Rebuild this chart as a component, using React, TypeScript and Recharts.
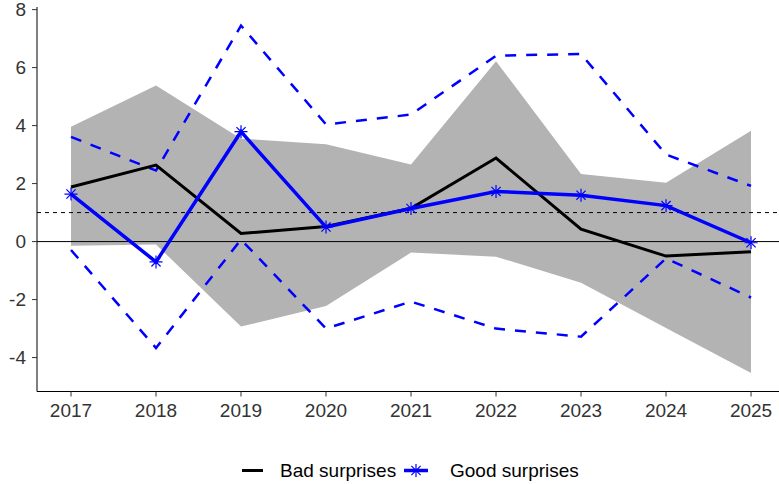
import React from "react";
import {
  ComposedChart,
  Line,
  Area,
  XAxis,
  YAxis,
  ReferenceLine,
  Legend,
} from "recharts";

const years = [2017, 2018, 2019, 2020, 2021, 2022, 2023, 2024, 2025];
const bad = [1.88, 2.64, 0.28, 0.52, 1.15, 2.88, 0.43, -0.5, -0.35];
const good = [1.64, -0.7, 3.79, 0.5, 1.14, 1.73, 1.6, 1.24, -0.04];
const goodUpper = [3.61, 2.45, 7.45, 4.04, 4.38, 6.41, 6.47, 3.0, 1.92];
const goodLower = [-0.29, -3.67, 0.07, -3.0, -2.07, -3.0, -3.28, -0.58, -1.93];
const bandUpper = [3.96, 5.38, 3.55, 3.36, 2.66, 6.22, 2.33, 2.03, 3.82];
const bandLower = [-0.14, -0.1, -2.93, -2.22, -0.38, -0.52, -1.42, -2.98, -4.53];
const yTicks = [-4, -2, 0, 2, 4, 6, 8];

const data = years.map((year, i) => ({
  year,
  bad: bad[i],
  good: good[i],
  goodUpper: goodUpper[i],
  goodLower: goodLower[i],
  band: [bandLower[i], bandUpper[i]],
}));

const FONT = "'Liberation Sans', Arial, sans-serif";
const BLUE = "#0000FF";
const FS = 19;

const Star = (props: any) => {
  const { cx, cy } = props;
  if (cx == null || cy == null) return null;
  const r = 6.5;
  const d = 4.6;
  return (
    <g stroke={BLUE} strokeWidth={1.2}>
      <line x1={cx - r} y1={cy} x2={cx + r} y2={cy} />
      <line x1={cx} y1={cy - r} x2={cx} y2={cy + r} />
      <line x1={cx - d} y1={cy - d} x2={cx + d} y2={cy + d} />
      <line x1={cx - d} y1={cy + d} x2={cx + d} y2={cy - d} />
    </g>
  );
};

const LegendContent = () => (
  <div style={{ width: 779, height: 24, position: "relative" }}>
    <svg width={779} height={24} style={{ display: "block" }}>
      <line x1={242} y1={13.5} x2={263} y2={13.5} stroke="#000" strokeWidth={3} />
      <text x={280} y={13.5} dominantBaseline="central" fontSize={FS} fontFamily={FONT} fill="#000">
        Bad surprises
      </text>
      <line x1={404} y1={13.5} x2={428} y2={13.5} stroke={BLUE} strokeWidth={3.5} />
      <Star cx={416} cy={13.5} />
      <text x={450} y={13.5} dominantBaseline="central" fontSize={FS} fontFamily={FONT} fill="#000">
        Good surprises
      </text>
    </svg>
  </div>
);

export default function App() {
  return (
    <div style={{ position: "absolute", left: 0, top: 0, width: 779, height: 484, background: "#fff" }}>
      <ComposedChart
        width={779}
        height={484}
        data={data}
        margin={{ top: 7, right: 0, left: 0, bottom: 3 }}
        style={{ fontFamily: FONT }}
      >
        <XAxis
          dataKey="year"
          type="number"
          domain={[2016.6, 2025.329]}
          allowDataOverflow
          ticks={years}
          interval={0}
          height={65.5}
          tickSize={5}
          tickMargin={7}
          axisLine={{ stroke: "#000", strokeWidth: 1 }}
          tickLine={{ stroke: "#333", strokeWidth: 1 }}
          tick={{ fontSize: FS, fill: "#333", fontFamily: FONT }}
        />
        <YAxis
          type="number"
          domain={[-5.17, 8.09]}
          allowDataOverflow
          ticks={yTicks}
          interval={0}
          width={37}
          tickSize={5}
          tickMargin={6}
          axisLine={{ stroke: "#000", strokeWidth: 1 }}
          tickLine={{ stroke: "#333", strokeWidth: 1 }}
          tick={{ fontSize: FS, fill: "#333", fontFamily: FONT }}
        />
        <Area
          dataKey="band"
          type="linear"
          fill="#B3B3B3"
          fillOpacity={1}
          stroke="none"
          isAnimationActive={false}
          legendType="none"
        />
        <ReferenceLine y={0} stroke="#000" strokeWidth={1} />
        <ReferenceLine y={1} stroke="#000" strokeWidth={1} strokeDasharray="4 4" />
        <Line
          dataKey="goodUpper"
          type="linear"
          stroke={BLUE}
          strokeWidth={2.5}
          strokeDasharray="11 10"
          dot={false}
          activeDot={false}
          isAnimationActive={false}
          legendType="none"
        />
        <Line
          dataKey="goodLower"
          type="linear"
          stroke={BLUE}
          strokeWidth={2.5}
          strokeDasharray="11 10"
          dot={false}
          activeDot={false}
          isAnimationActive={false}
          legendType="none"
        />
        <Line
          dataKey="bad"
          name="Bad surprises"
          type="linear"
          stroke="#000"
          strokeWidth={3}
          dot={false}
          activeDot={false}
          isAnimationActive={false}
        />
        <Line
          dataKey="good"
          name="Good surprises"
          type="linear"
          stroke={BLUE}
          strokeWidth={3.5}
          dot={<Star />}
          activeDot={false}
          isAnimationActive={false}
        />
        <Legend
          verticalAlign="bottom"
          content={<LegendContent />}
          wrapperStyle={{ left: 0, width: 779 }}
        />
      </ComposedChart>
    </div>
  );
}
